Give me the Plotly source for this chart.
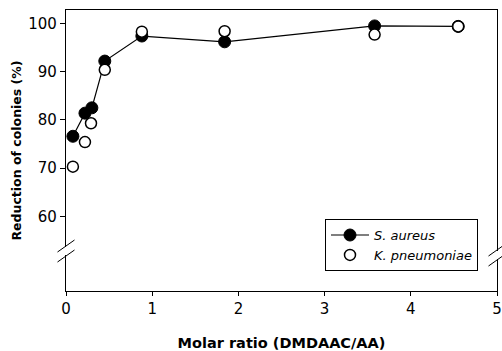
import plotly.graph_objects as go

# Data
sa_x = [0.08, 0.22, 0.30, 0.45, 0.88, 1.84, 3.58, 4.55]
sa_y = [76.6, 81.4, 82.5, 92.2, 97.4, 96.2, 99.5, 99.4]
kp_x = [0.08, 0.22, 0.29, 0.45, 0.88, 1.84, 3.58, 4.55]
kp_y = [70.3, 75.4, 79.3, 90.4, 98.3, 98.4, 97.7, 99.4]
x_ticks = [0, 1, 2, 3, 4, 5]
y_ticks = [60, 70, 80, 90, 100]

font = "DejaVu Sans, Arial, sans-serif"

fig = go.Figure()
fig.add_trace(go.Scatter(
    x=sa_x, y=sa_y, mode="lines+markers", name="<i>S. aureus</i>",
    line=dict(color="black", width=1.2),
    marker=dict(symbol="circle", size=12, color="black", line=dict(color="black", width=1)),
))
fig.add_trace(go.Scatter(
    x=kp_x, y=kp_y, mode="markers", name="<i>K. pneumoniae</i>",
    marker=dict(symbol="circle", size=11, color="white", line=dict(color="black", width=1.5)),
))

pw = 502 - 66 - 5
ph = 351 - 10 - 60

fig.update_layout(
    width=502, height=351,
    margin=dict(l=66, r=5, t=10, b=60),
    paper_bgcolor="white", plot_bgcolor="white",
    font=dict(family=font, size=13, color="black"),
    showlegend=True,
    legend=dict(
        x=(325 - 66) / pw, y=0.256, xanchor="left", yanchor="top",
        bordercolor="black", borderwidth=1, bgcolor="white",
        font=dict(size=13, family=font), tracegroupgap=0,
        itemwidth=38,
    ),
    xaxis=dict(
        range=[0, 5], tickvals=x_ticks, showgrid=False, zeroline=False,
        showline=True, linecolor="black", linewidth=1.2, mirror=True,
        ticks="outside", ticklen=4, tickcolor="black", automargin=False,
        ticklabeloverflow="allow",
        tickfont=dict(size=15, family=font),
        title=dict(text="<b>Molar ratio (DMDAAC/AA)</b>", font=dict(size=14.5, family=font), standoff=20),
    ),
    yaxis=dict(
        range=[44.5, 102.8], tickvals=y_ticks, showgrid=False, zeroline=False,
        showline=True, linecolor="black", linewidth=1.2, mirror=True,
        ticks="outside", ticklen=5, tickcolor="black", automargin=False,
        tickfont=dict(size=15, family=font),
        title=dict(text="<b>Reduction of colonies (%)</b>", font=dict(size=12.5, family=font), standoff=3),
    ),
)

# Axis break marks (decorative) in paper coordinates
def brk(xc, yshift):
    dx = 8.5 / pw
    fig.add_shape(type="rect", xref="paper", yref="paper",
                  x0=xc - 3 / pw, x1=xc + 3 / pw,
                  y0=(291 - 255 - yshift) / ph, y1=(291 - 247 - yshift) / ph,
                  fillcolor="white", line=dict(width=0), layer="above")
    for off in (0, 10):
        fig.add_shape(type="line", xref="paper", yref="paper",
                      x0=xc - dx, y0=(291 - 252 - off - yshift) / ph,
                      x1=xc + dx, y1=(291 - 240 - off - yshift) / ph,
                      line=dict(color="black", width=1), layer="above")

brk(0.0, 0)
brk(1.0, 4)

post = ("document.body.style.margin='0';document.body.style.overflow='hidden';"
        "var gd=document.getElementById('{plot_id}');"
        "Plotly.relayout(gd,{width:502,height:351});")
fig.write_html("out.html", post_script=post, config={"displayModeBar": False})
